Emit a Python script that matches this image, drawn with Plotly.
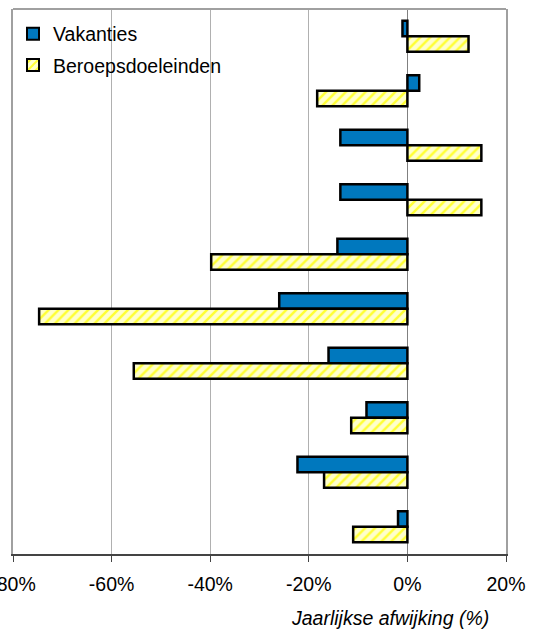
import plotly.graph_objects as go

categories = ["1", "2", "3", "4", "5", "6", "7", "8", "9", "10"]
vakanties = [-1.0, 2.4, -13.6, -13.6, -14.2, -26.0, -16.0, -8.3, -22.3, -1.9]
beroeps = [12.4, -18.3, 15.0, 15.0, -39.8, -74.7, -55.5, -11.4, -16.9, -11.0]
tick_vals = [-80, -60, -40, -20, 0, 20]
tick_text = ["-80%", "-60%", "-40%", "-20%", "0%", "20%"]

FONT = "Liberation Sans, Arial, sans-serif"
FS = 19.5

fig = go.Figure()
fig.add_trace(go.Bar(
    y=categories, x=vakanties, orientation="h", name="Vakanties",
    legendgroup="a",
    marker=dict(color="#0078BE", line=dict(color="black", width=2.5)),
))
fig.add_trace(go.Bar(
    y=categories, x=beroeps, orientation="h", name="Beroepsdoeleinden",
    legendgroup="b",
    marker=dict(color="#FFFFCC", line=dict(color="black", width=2.5),
                pattern=dict(shape="/", bgcolor="#FFFFCC", fgcolor="#FFFF33",
                             size=7, solidity=0.35, fillmode="replace")),
))

fig.update_layout(
    width=535, height=631,
    margin=dict(l=13, r=29, t=9, b=77, autoexpand=False),
    paper_bgcolor="white", plot_bgcolor="white",
    barmode="group", bargap=0.43, bargroupgap=0,
    font=dict(family=FONT, size=FS, color="black"),
    showlegend=True,
    legend=dict(x=0.0, y=0.99, xanchor="left", yanchor="top",
                bgcolor="rgba(0,0,0,0)", font=dict(size=FS),
                tracegroupgap=3, itemsizing="constant"),
    xaxis=dict(range=[-80, 20], tickvals=tick_vals, ticktext=tick_text,
               automargin=False,
               showgrid=True, gridcolor="#B0B0B0", gridwidth=1,
               zeroline=True, zerolinecolor="#808080", zerolinewidth=1,
               showline=True, linecolor="#444444", linewidth=2, mirror=False,
               ticks="outside", ticklen=6, tickcolor="#444444", tickwidth=1,
               ticklabeloverflow="allow", ticklabelstandoff=6,
               tickfont=dict(size=FS), fixedrange=True),
    yaxis=dict(autorange="reversed", showticklabels=False, showgrid=False,
               automargin=False,
               showline=True, linecolor="#A0A0A0", linewidth=2, mirror=True,
               ticks="", zeroline=False),
    annotations=[dict(text="<i>Jaarlijkse afwijking (%)</i>", xref="paper", yref="paper",
                      x=0.765, y=-0.117, xanchor="center", yanchor="middle",
                      showarrow=False, font=dict(size=FS))],
)
fig.add_shape(type="line", xref="paper", yref="paper", x0=0, x1=1, y0=1, y1=1,
              line=dict(color="#A0A0A0", width=2))

fig.write_html("out.html", config={"displayModeBar": False},
               post_script="document.body.style.margin='0';")
